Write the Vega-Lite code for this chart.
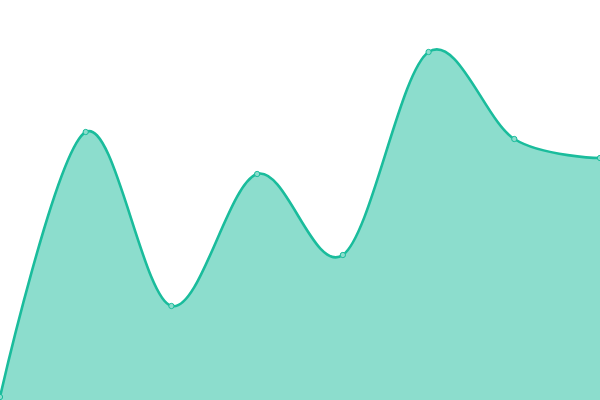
{
  "$schema": "https://vega.github.io/schema/vega-lite/v6.json",
  "width": 600,
  "height": 400,
  "autosize": {"type": "none"},
  "padding": 0,
  "background": "white",
  "config": {"view": {"stroke": null}},
  "data": {
    "values": [
      {"i": 0, "v": 3},
      {"i": 1, "v": 268},
      {"i": 2, "v": 94},
      {"i": 3, "v": 226},
      {"i": 4, "v": 145},
      {"i": 5, "v": 348},
      {"i": 6, "v": 261},
      {"i": 7, "v": 242}
    ]
  },
  "encoding": {
    "x": {"field": "i", "type": "quantitative", "axis": null, "scale": {"domain": [0, 7], "nice": false, "zero": false}},
    "y": {"field": "v", "type": "quantitative", "axis": null, "scale": {"domain": [0, 400], "nice": false}}
  },
  "layer": [
    {"mark": {"type": "area", "interpolate": "cardinal", "color": "#1abc9c", "opacity": 0.5, "clip": true}},
    {"mark": {"type": "line", "interpolate": "cardinal", "color": "#1abc9c", "strokeWidth": 2.6, "clip": true}},
    {"mark": {"type": "point", "filled": true, "fill": "#8cddcd", "stroke": "#1abc9c", "strokeWidth": 1, "size": 28, "opacity": 1, "clip": true}}
  ]
}
